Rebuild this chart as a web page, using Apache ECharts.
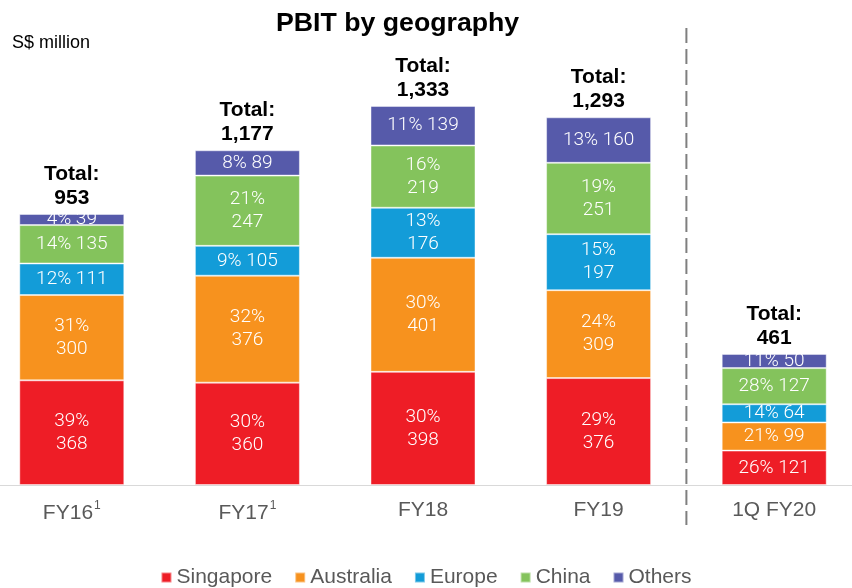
<!DOCTYPE html>
<html>
<head>
<meta charset="utf-8">
<script src="https://cdn.jsdelivr.net/npm/echarts@6/dist/echarts.min.js"></script>
<style>
  html, body { margin: 0; padding: 0; background: #ffffff; }
  #chart { width: 852px; height: 588px; }
</style>
</head>
<body>
<div id="chart"></div>
<script>
const categories = ['FY16', 'FY17', 'FY18', 'FY19', '1Q FY20'];
const footnotes = ['1', '1', '', '', ''];
const singapore = [368, 360, 398, 376, 121];
const australia = [300, 376, 401, 309, 99];
const europe = [111, 105, 176, 197, 64];
const china = [135, 247, 219, 251, 127];
const others = [39, 89, 139, 160, 50];
const pctSingapore = [39, 30, 30, 29, 26];
const pctAustralia = [31, 32, 30, 24, 21];
const pctEurope = [12, 9, 13, 15, 14];
const pctChina = [14, 21, 16, 19, 28];
const pctOthers = [4, 8, 11, 13, 11];
const totals = [953, 1177, 1333, 1293, 461];
// divider sits between FY19 and 1Q FY20
const dividerAfter = 3;

const FONT = '"Liberation Sans", Arial, Helvetica, sans-serif';
const LIGHT = 'Roboto, "Liberation Sans", Arial, sans-serif';
const colors = ['#EE1D26', '#F7921E', '#139CD8', '#84C35C', '#565AAA'];

function segSeries(name, values, pcts, color) {
  return {
    name: name,
    type: 'bar',
    stack: 'geo',
    barWidth: 105,
    xAxisIndex: 0,
    data: values,
    itemStyle: { color: color, borderColor: 'rgba(255,255,255,0.45)', borderWidth: 1 },
    label: {
      show: true,
      position: 'inside',
      color: '#ffffff',
      fontFamily: LIGHT,
      fontWeight: 300,
      fontSize: 19,
      lineHeight: 23,
      formatter: function (p) {
        const pct = pcts[p.dataIndex] + '%';
        return p.value >= 170 ? pct + '\n' + p.value : pct + ' ' + p.value;
      }
    }
  };
}

const chart = echarts.init(document.getElementById('chart'), null, { renderer: 'canvas' });
chart.setOption({
  animation: false,
  backgroundColor: '#ffffff',
  title: [
    { text: 'PBIT by geography', left: 271, top: 5,
      textStyle: { fontFamily: FONT, fontSize: 26.7, fontWeight: 'bold', color: '#000000' } },
    { text: 'S$ million', left: 12, top: 34, padding: 0,
      textStyle: { fontFamily: FONT, fontSize: 18, fontWeight: 'normal', color: '#000000' } }
  ],
  legend: {
    top: 562,
    left: 'center',
    itemWidth: 10,
    itemHeight: 10,
    itemGap: 22,
    icon: 'rect',
    textStyle: { fontFamily: FONT, fontSize: 21, color: '#595959' },
    data: ['Singapore', 'Australia', 'Europe', 'China', 'Others']
  },
  grid: { left: -16, right: -10, top: 30, bottom: 103, containLabel: false, outerBoundsMode: 'none' },
  xAxis: [{
    type: 'category',
    data: categories,
    axisLine: { show: true, lineStyle: { color: '#D9D9D9', width: 1 } },
    axisTick: { show: false },
    splitLine: { show: false },
    axisLabel: {
      margin: 15,
      color: '#595959',
      fontFamily: FONT,
      fontSize: 21,
      formatter: function (v, i) {
        return footnotes[i] ? v + '{sup|' + footnotes[i] + '}' : v;
      },
      rich: {
        sup: { fontFamily: FONT, fontSize: 12, color: '#595959', verticalAlign: 'top', padding: [0, 0, 14, 1] }
      }
    }
  }, {
    type: 'value',
    min: -0.5,
    max: categories.length - 0.5,
    show: false
  }],
  yAxis: { type: 'value', min: 0, max: 1600, show: false, splitLine: { show: false } },
  series: [
    segSeries('Singapore', singapore, pctSingapore, colors[0]),
    segSeries('Australia', australia, pctAustralia, colors[1]),
    segSeries('Europe', europe, pctEurope, colors[2]),
    segSeries('China', china, pctChina, colors[3]),
    segSeries('Others', others, pctOthers, colors[4]),
    {
      name: 'Total',
      type: 'bar',
      barWidth: 105,
      barGap: '-100%',
      data: totals,
      silent: true,
      z: 1,
      itemStyle: { color: 'rgba(0,0,0,0)' },
      label: {
        show: true,
        position: 'top',
        distance: 4,
        color: '#000000',
        fontFamily: FONT,
        fontSize: 21,
        fontWeight: 'bold',
        lineHeight: 24,
        formatter: function (p) { return 'Total:\n' + p.value.toLocaleString('en-US'); }
      }
    },
    {
      name: 'divider',
      type: 'line',
      xAxisIndex: 1,
      yAxisIndex: 0,
      clip: false,
      silent: true,
      symbol: 'none',
      data: [[dividerAfter + 0.5, 1607], [dividerAfter + 0.5, -141]],
      lineStyle: { color: '#7F7F7F', width: 2, type: [15, 6] }
    }
  ]
});
</script>
</body>
</html>
